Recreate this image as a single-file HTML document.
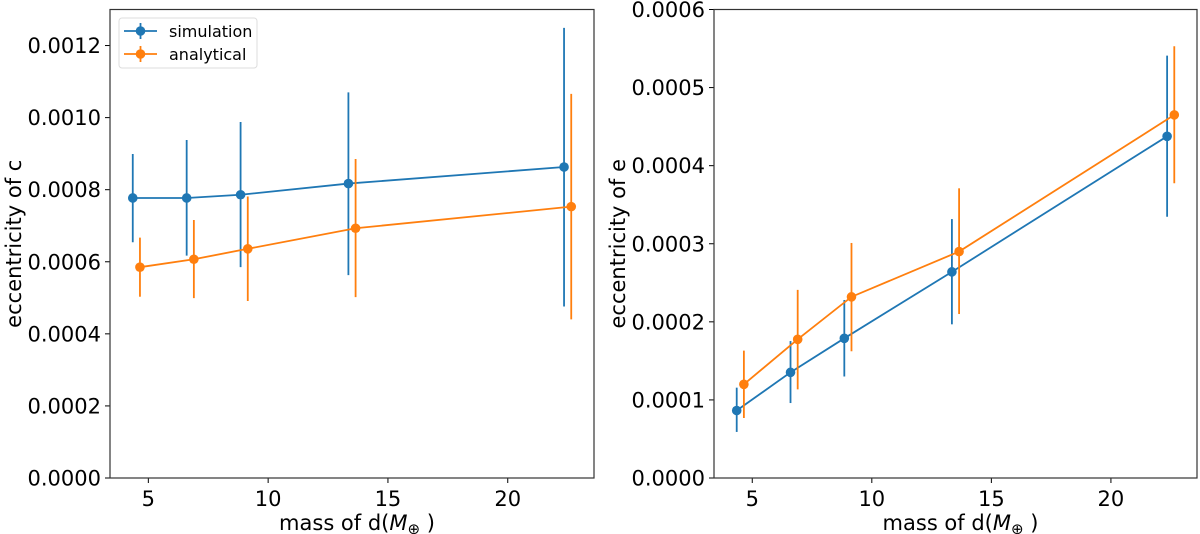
<!DOCTYPE html>
<html><head><meta charset="utf-8"><style>
html,body{margin:0;padding:0;background:#fff;}
svg{display:block;font-family:"DejaVu Sans","Liberation Sans",sans-serif;}
</style></head><body>
<svg id="chart" width="1200" height="534" xmlns="http://www.w3.org/2000/svg"></svg>
<script>
const massSim = [4.35, 6.6, 8.85, 13.35, 22.35];
const massAna = [4.65, 6.9, 9.15, 13.65, 22.65];
const cSim = [0.000777, 0.000777, 0.000786, 0.000817, 0.000863];
const cSimLo = [0.000654, 0.000617, 0.000585, 0.000563, 0.000476];
const cSimHi = [0.000899, 0.000938, 0.000988, 0.00107, 0.001249];
const cAna = [0.000585, 0.000607, 0.000636, 0.000693, 0.000753];
const cAnaLo = [0.000503, 0.000499, 0.000491, 0.000502, 0.00044];
const cAnaHi = [0.000667, 0.000716, 0.000781, 0.000885, 0.001066];
const eSim = [0.0000864, 0.0001353, 0.0001789, 0.000264, 0.0004376];
const eSimLo = [0.000059, 0.000096, 0.00013, 0.0001968, 0.0003346];
const eSimHi = [0.0001157, 0.0001754, 0.000228, 0.0003316, 0.000541];
const eAna = [0.00012, 0.0001776, 0.000232, 0.00029, 0.000465];
const eAnaLo = [0.0000768, 0.0001135, 0.0001623, 0.00021, 0.0003775];
const eAnaHi = [0.0001632, 0.000241, 0.000301, 0.000371, 0.000553];
const xTicks = [5, 10, 15, 20];
const yTicksC = [0, 0.0002, 0.0004, 0.0006, 0.0008, 0.0010, 0.0012];
const yTicksE = [0, 0.0001, 0.0002, 0.0003, 0.0004, 0.0005, 0.0006];

const NS = "http://www.w3.org/2000/svg";
const svg = document.getElementById('chart');
const BLUE = "#1f77b4", ORANGE = "#ff7f0e";
function mk(tag, attrs, parent) {
  const e = document.createElementNS(NS, tag);
  for (const k in attrs) e.setAttribute(k, attrs[k]);
  (parent || svg).appendChild(e);
  return e;
}
function panel(o) {
  const g = mk('g', {});
  
  
  const xs = v => o.x0 + (v - 3.4) / (23.6 - 3.4) * (o.x1 - o.x0);
  const ys = v => o.y1 - (v / o.ymax) * (o.y1 - o.y0);
  xTicks.forEach(t => {
    const x = xs(t);
    const l = mk('line', {x1: x, x2: x, y1: o.y1, y2: o.y1 + 5, stroke: '#000', 'stroke-width': 1}, g);
    
    
    const tx = mk('text', {x: x, y: o.y1 + 28, 'font-size': 21, 'text-anchor': 'middle', fill: '#000'}, g);
    tx.textContent = t;
    
    
  });
  o.yTicks.forEach(t => {
    const y = ys(t);
    const l = mk('line', {x1: o.x0 - 5, x2: o.x0, y1: y, y2: y, stroke: '#000', 'stroke-width': 1}, g);
    
    
    const tx = mk('text', {x: o.x0 - 9, y: y + 7.5, 'font-size': 21, 'text-anchor': 'end', fill: '#000'}, g);
    tx.textContent = t.toFixed(4);
    
    
  });
  o.series.forEach(s => {
    const sg = mk('g', {}, g);
    
    
    const pts = s.x.map((v, i) => xs(v) + ',' + ys(s.y[i])).join(' ');
    const pl = mk('polyline', {points: pts, fill: 'none', stroke: s.color, 'stroke-width': 1.8}, sg);
    
    
    s.x.forEach((v, i) => {
      const eb = mk('line', {x1: xs(v), x2: xs(v), y1: ys(s.lo[i]), y2: ys(s.hi[i]), stroke: s.color, 'stroke-width': 1.8}, sg);
      
      
      const c = mk('circle', {cx: xs(v), cy: ys(s.y[i]), r: 4.8, fill: s.color}, sg);
      
      
    });
  });
  const fr = mk('rect', {x: o.x0, y: o.y0, width: o.x1 - o.x0, height: o.y1 - o.y0, fill: 'none', stroke: '#333', 'stroke-width': 1.2}, g);
  
  
  const xl = mk('text', {x: (o.x0 + o.x1) / 2 + 5, y: 530, 'font-size': 21, 'text-anchor': 'middle', fill: '#000'}, g);
  xl.innerHTML = 'mass of d(<tspan font-style="italic">M</tspan><tspan font-size="15" dy="4">⊕</tspan><tspan dy="-4"> )</tspan>';
  
  
  const cy = (o.y0 + o.y1) / 2;
  const yl = mk('text', {x: 0, y: 0, 'font-size': 21, 'text-anchor': 'middle', fill: '#000', transform: `translate(${o.x0 - 89},${cy}) rotate(-90)`}, g);
  yl.textContent = o.ylabel;
  
  
}
panel({name: 'panel-c', x0: 110, x1: 594, y0: 9.5, y1: 478, ymax: 0.0013, yTicks: yTicksC, ylabel: 'eccentricity of c',
  series: [
    {name: 'series-simulation', color: BLUE, x: massSim, y: cSim, lo: cSimLo, hi: cSimHi},
    {name: 'series-analytical', color: ORANGE, x: massAna, y: cAna, lo: cAnaLo, hi: cAnaHi}]});
panel({name: 'panel-e', x0: 714, x1: 1197, y0: 9.5, y1: 478, ymax: 0.0006, yTicks: yTicksE, ylabel: 'eccentricity of e',
  series: [
    {name: 'series-simulation', color: BLUE, x: massSim, y: eSim, lo: eSimLo, hi: eSimHi},
    {name: 'series-analytical', color: ORANGE, x: massAna, y: eAna, lo: eAnaLo, hi: eAnaHi}]});
const lg = mk('g', {});


const lr = mk('rect', {x: 119, y: 18, width: 138, height: 50, rx: 3, fill: '#fff', stroke: '#ddd', 'stroke-width': 1}, lg);


[['simulation', BLUE, 31], ['analytical', ORANGE, 54]].forEach(([lab, col, y]) => {
  const eg = mk('g', {}, lg);
  
  
  mk('line', {x1: 124, x2: 157, y1: y, y2: y, stroke: col, 'stroke-width': 1.8}, eg);
  mk('line', {x1: 140.5, x2: 140.5, y1: y - 8, y2: y + 8, stroke: col, 'stroke-width': 1.8}, eg);
  mk('circle', {cx: 140.5, cy: y, r: 4.8, fill: col}, eg);
  const t = mk('text', {x: 169, y: y + 6, 'font-size': 16, fill: '#000'}, eg);
  t.textContent = lab;
});
</script>
</body></html>
